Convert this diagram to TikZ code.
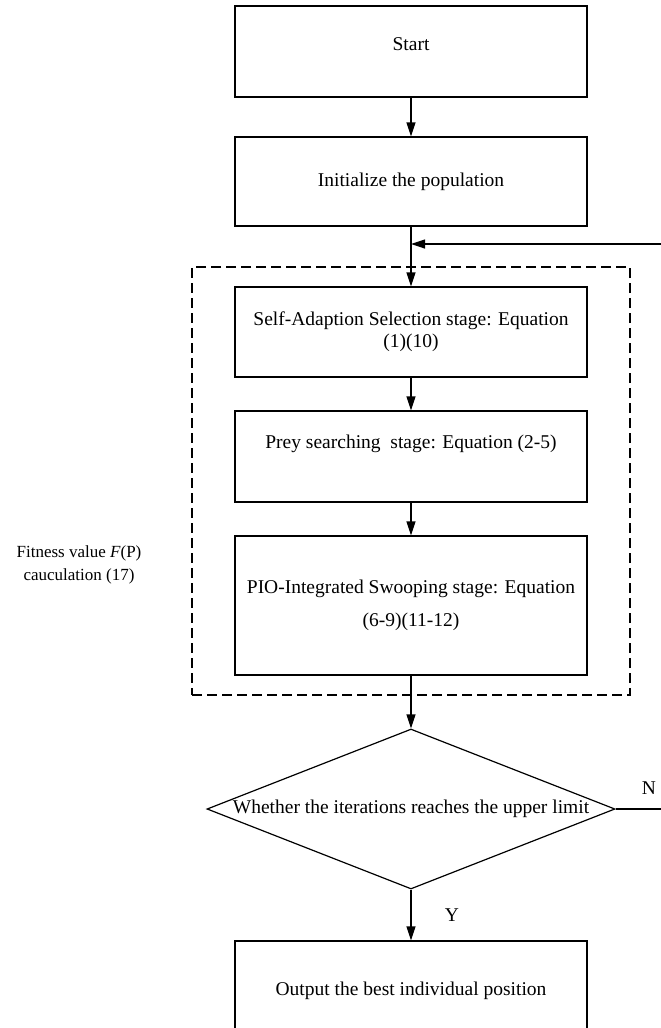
\documentclass[tikz,border=0pt]{standalone}
\usepackage{fontspec}
\setmainfont{Liberation Serif}
\usetikzlibrary{arrows.meta,shapes.geometric}
\begin{document}
\begin{tikzpicture}[x=1pt,y=-1pt,
  every node/.style={font=\fontsize{19.5}{22}\selectfont},
  box/.style={draw,line width=1.2pt,rectangle,minimum width=352pt,inner sep=0pt,align=center},
  frame/.style={draw,line width=1.2pt,dash pattern=on 10pt off 5pt,rectangle,minimum width=438pt,minimum height=428pt,inner sep=0pt},
  decision/.style={draw,line width=1.2pt,diamond,aspect=2.55,inner sep=0pt,minimum width=408pt,minimum height=160pt},
  arr/.style={line width=1.2pt,-{Triangle[length=14pt,width=9pt]}},
  plain/.style={inner sep=0pt,align=center}]
\clip (0,0) rectangle (661,1028);
\fill[white] (0,0) rectangle (661,1028);
\node[box,minimum height=91pt] (start) at (411,51.5) {\raisebox{15pt}{Start}};
\node[box,minimum height=89pt] (init) at (411,181.5) {Initialize the population};
\node[frame] (grp) at (411,481) {};
\node[box,minimum height=90pt] (self) at (411,332) {Self-Adaption Selection stage: Equation\\(1)(10)};
\node[box,minimum height=91pt] (prey) at (411,456.5) {\raisebox{30pt}{Prey searching\ \ stage: Equation (2-5)}};
\node[box,minimum height=139pt] (pio) at (411,605.5) {PIO-Integrated Swooping stage: Equation\\[11pt](6-9)(11-12)};
\node[decision] (dec) at (411,809) {Whether the iterations reaches the upper limit};
\node[box,minimum height=100pt] (out) at (411,991) {Output the best individual position};
\node[plain,font=\fontsize{17}{23}\selectfont] (fit) at (79,565) {Fitness value \textit{F}(P)\\cauculation (17)};
\node[plain] (ylab) at (452,915) {Y};
\node[plain] (nlab) at (649,788) {N};
\coordinate (loopR) at (720,809);
\coordinate (loopT) at (720,244);
\coordinate (merge) at (411,244);
\draw[arr] (start) -- (init);
\draw[arr] (init) -- (self);
\draw[arr] (self) -- (prey);
\draw[arr] (prey) -- (pio);
\draw[arr] (pio) -- (dec);
\draw[arr] (dec) -- (out);
\draw[arr] (dec.east) -- (loopR) -- (loopT) -- (merge);
\end{tikzpicture}
\end{document}
